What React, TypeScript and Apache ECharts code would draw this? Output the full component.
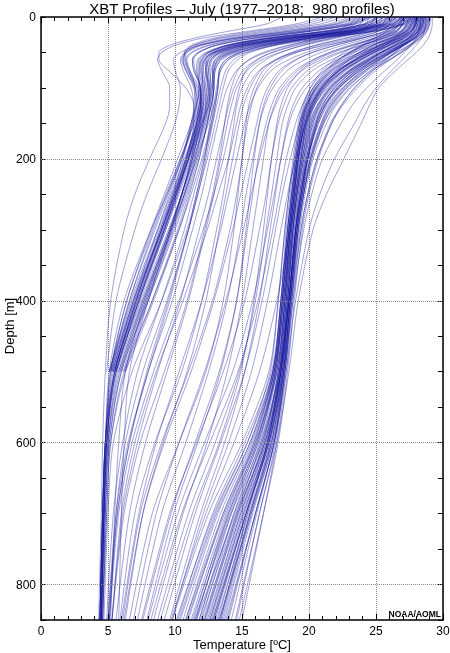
import React, { useEffect, useRef } from "react";
import * as echarts from "echarts";

const DEPTHS = [0, 10, 20, 30, 40, 50, 60, 75, 100, 125, 150, 200, 250, 300, 400, 500, 600, 700, 850];
const DEPTH_LABEL_STEP = 200;
const DEPTH_GRID = [200, 400, 600, 800];

// Warm (subtropical / 18-degree water) profiles, temperature in deg C
const WARM = [
  [28.5, 28.4, 28.2, 27.5, 26.5, 25.4, 24.5, 23.2, 21.6, 20.6, 20.1, 19.6, 19.2, 18.9, 18.4, 17.9, 16.9, 15.1, 12.6],
  [27.8, 27.7, 27.3, 26.2, 25.0, 24.0, 23.1, 22.0, 20.8, 20.0, 19.6, 19.2, 18.9, 18.6, 18.2, 17.6, 16.2, 14.2, 11.8],
  [28.9, 28.9, 28.7, 28.2, 27.4, 26.5, 25.6, 24.2, 22.5, 21.4, 20.7, 19.9, 19.4, 19.0, 18.5, 18.0, 17.2, 15.6, 13.4],
  [27.2, 27.0, 26.5, 25.4, 24.1, 23.2, 22.4, 21.5, 20.4, 19.8, 19.4, 19.0, 18.7, 18.4, 18.0, 17.4, 15.8, 13.6, 11.0],
  [28.2, 28.1, 27.9, 27.4, 26.8, 26.0, 25.2, 24.0, 22.6, 21.6, 21.0, 20.2, 19.6, 19.2, 18.6, 18.1, 17.4, 16.0, 14.0],
  [26.8, 26.6, 26.0, 24.8, 23.5, 22.6, 21.9, 21.0, 20.1, 19.6, 19.3, 18.9, 18.6, 18.3, 17.9, 17.2, 15.2, 12.8, 10.2],
  [28.6, 28.5, 28.3, 27.8, 26.9, 25.8, 24.8, 23.4, 21.8, 20.8, 20.2, 19.6, 19.2, 18.8, 18.3, 17.7, 16.6, 14.8, 12.2],
  [27.5, 27.4, 27.1, 26.5, 25.6, 24.6, 23.7, 22.5, 21.1, 20.3, 19.8, 19.4, 19.0, 18.7, 18.3, 17.8, 16.8, 15.0, 12.6],
  [29.0, 28.9, 28.6, 27.9, 26.8, 25.6, 24.6, 23.3, 21.9, 21.0, 20.5, 19.9, 19.5, 19.1, 18.6, 18.1, 17.0, 15.3, 12.9],
  [28.0, 27.9, 27.6, 26.9, 25.9, 24.8, 23.9, 22.7, 21.2, 20.3, 19.8, 19.3, 18.9, 18.6, 18.1, 17.5, 16.0, 13.9, 11.4],
  [28.3, 28.3, 28.1, 27.7, 27.1, 26.4, 25.7, 24.6, 23.1, 22.0, 21.3, 20.3, 19.7, 19.3, 18.7, 18.2, 17.5, 16.3, 14.6],
  [27.0, 26.9, 26.6, 25.8, 24.7, 23.7, 22.8, 21.7, 20.5, 19.9, 19.5, 19.1, 18.8, 18.5, 18.1, 17.5, 16.3, 14.4, 12.0],
  [28.7, 28.6, 28.4, 27.9, 27.1, 26.2, 25.3, 23.9, 22.2, 21.1, 20.5, 19.8, 19.3, 19.0, 18.5, 17.9, 16.7, 14.6, 11.9],
  [28.1, 28.0, 27.7, 27.0, 26.0, 24.9, 23.9, 22.6, 21.0, 20.2, 19.7, 19.2, 18.9, 18.6, 18.2, 17.7, 16.5, 14.5, 11.6],
  [28.8, 28.7, 28.5, 28.1, 27.5, 26.8, 26.0, 24.8, 23.4, 22.4, 21.6, 20.6, 19.9, 19.4, 18.8, 18.3, 17.6, 16.6, 15.0],
  [27.6, 27.5, 27.0, 26.0, 24.8, 23.8, 23.0, 22.1, 21.0, 20.3, 19.9, 19.4, 19.0, 18.7, 18.2, 17.6, 16.0, 13.7, 10.9],
  [28.4, 28.3, 28.0, 27.3, 26.3, 25.3, 24.4, 23.1, 21.6, 20.7, 20.1, 19.5, 19.1, 18.8, 18.4, 17.9, 17.0, 15.4, 13.2],
  [26.5, 26.3, 25.8, 24.9, 23.9, 23.0, 22.3, 21.4, 20.3, 19.7, 19.3, 18.9, 18.5, 18.2, 17.7, 17.0, 15.0, 12.5, 9.8],
  [28.9, 28.8, 28.6, 28.2, 27.6, 26.9, 26.1, 25.0, 23.6, 22.5, 21.7, 20.7, 20.0, 19.5, 18.9, 18.4, 17.7, 16.6, 14.8],
  [27.9, 27.8, 27.5, 26.7, 25.6, 24.5, 23.6, 22.4, 21.0, 20.1, 19.6, 19.1, 18.7, 18.4, 17.9, 17.3, 15.6, 13.2, 10.6],
  [28.2, 28.1, 27.8, 27.1, 26.1, 25.1, 24.2, 23.0, 21.5, 20.6, 20.0, 19.5, 19.1, 18.8, 18.4, 17.8, 16.6, 14.7, 12.3],
  [28.6, 28.5, 28.3, 27.7, 26.8, 25.9, 25.0, 23.8, 22.3, 21.3, 20.7, 19.9, 19.4, 19.0, 18.5, 17.9, 16.9, 15.2, 12.8],
  [27.3, 27.2, 26.9, 26.2, 25.2, 24.2, 23.3, 22.2, 20.9, 20.1, 19.7, 19.2, 18.9, 18.6, 18.1, 17.4, 15.7, 13.4, 10.8],
  [28.0, 27.9, 27.7, 27.1, 26.3, 25.4, 24.6, 23.5, 22.1, 21.2, 20.6, 19.9, 19.4, 19.1, 18.6, 18.1, 17.3, 15.8, 13.7],
  [29.1, 29.0, 28.8, 28.3, 27.5, 26.6, 25.7, 24.4, 22.8, 21.6, 20.9, 20.0, 19.5, 19.1, 18.6, 18.0, 16.8, 14.9, 12.4],
  [27.7, 27.6, 27.2, 26.4, 25.3, 24.3, 23.4, 22.3, 20.9, 20.1, 19.7, 19.2, 18.8, 18.5, 18.0, 17.3, 15.4, 12.9, 10.1],
  [28.4, 28.3, 28.1, 27.6, 26.9, 26.1, 25.3, 24.2, 22.7, 21.7, 21.0, 20.1, 19.6, 19.2, 18.7, 18.2, 17.4, 16.1, 14.2],
  [28.1, 28.0, 27.6, 26.8, 25.7, 24.6, 23.6, 22.3, 20.7, 19.9, 19.5, 19.1, 18.8, 18.5, 18.0, 17.4, 16.1, 14.0, 11.3],
];

// A second set of subtropical profiles
const WARM_B = [
  [27.4, 27.3, 27.0, 26.3, 25.3, 24.3, 23.4, 22.3, 21.0, 20.2, 19.8, 19.3, 19.0, 18.7, 18.2, 17.6, 16.4, 14.6, 12.2],
  [28.8, 28.7, 28.5, 27.9, 27.0, 26.0, 25.0, 23.6, 22.0, 20.9, 20.3, 19.7, 19.3, 19.0, 18.5, 18.0, 17.1, 15.5, 13.1],
  [27.9, 27.8, 27.4, 26.5, 25.3, 24.1, 23.1, 21.9, 20.5, 19.8, 19.4, 19.0, 18.7, 18.4, 17.9, 17.3, 15.9, 13.8, 11.2],
  [28.5, 28.4, 28.2, 27.7, 27.0, 26.2, 25.4, 24.3, 22.8, 21.8, 21.1, 20.2, 19.6, 19.2, 18.6, 18.1, 17.2, 15.6, 13.3],
  [26.9, 26.7, 26.2, 25.2, 24.0, 23.0, 22.2, 21.3, 20.3, 19.7, 19.4, 19.0, 18.7, 18.4, 17.9, 17.3, 15.6, 13.1, 10.4],
  [28.2, 28.1, 27.9, 27.3, 26.4, 25.4, 24.5, 23.2, 21.7, 20.8, 20.3, 19.7, 19.3, 18.9, 18.4, 17.8, 16.5, 14.4, 11.8],
  [29.0, 29.0, 28.8, 28.4, 27.7, 26.9, 26.0, 24.7, 23.0, 21.9, 21.1, 20.1, 19.5, 19.1, 18.5, 18.0, 17.0, 15.3, 12.9],
  [27.6, 27.5, 27.2, 26.4, 25.4, 24.4, 23.5, 22.3, 20.9, 20.2, 19.8, 19.4, 19.1, 18.8, 18.3, 17.8, 16.9, 15.3, 13.0],
  [28.3, 28.2, 28.0, 27.4, 26.6, 25.6, 24.7, 23.4, 21.9, 21.0, 20.4, 19.8, 19.4, 19.0, 18.5, 17.9, 16.7, 14.7, 12.1],
  [27.1, 27.0, 26.6, 25.6, 24.4, 23.4, 22.6, 21.6, 20.5, 19.8, 19.5, 19.1, 18.8, 18.5, 18.0, 17.5, 16.2, 14.1, 11.5],
  [28.7, 28.6, 28.4, 27.8, 26.9, 25.9, 24.9, 23.6, 22.1, 21.1, 20.5, 19.8, 19.4, 19.0, 18.5, 17.9, 16.9, 15.1, 12.7],
  [28.0, 27.9, 27.6, 26.9, 25.9, 24.9, 24.0, 22.8, 21.3, 20.4, 19.9, 19.4, 19.0, 18.7, 18.3, 17.8, 16.9, 15.4, 13.4],
  [27.4, 27.3, 26.9, 26.0, 24.8, 23.8, 22.9, 21.8, 20.6, 19.9, 19.5, 19.1, 18.8, 18.5, 18.0, 17.4, 15.9, 13.6, 10.8],
  [28.6, 28.5, 28.3, 27.8, 27.0, 26.1, 25.2, 24.0, 22.5, 21.5, 20.9, 20.1, 19.6, 19.2, 18.7, 18.2, 17.4, 16.0, 13.9],
  [28.1, 28.0, 27.7, 27.0, 26.0, 24.9, 23.9, 22.6, 21.1, 20.2, 19.7, 19.2, 18.9, 18.6, 18.1, 17.5, 16.1, 14.0, 11.6],
  [27.8, 27.7, 27.4, 26.7, 25.7, 24.7, 23.8, 22.6, 21.2, 20.4, 20.0, 19.5, 19.1, 18.8, 18.4, 17.9, 17.1, 15.6, 13.5],
  [28.9, 28.8, 28.6, 28.0, 27.1, 26.1, 25.1, 23.8, 22.2, 21.2, 20.6, 19.9, 19.5, 19.1, 18.6, 18.1, 17.2, 15.7, 13.6],
  [27.0, 26.8, 26.3, 25.3, 24.1, 23.1, 22.2, 21.2, 20.1, 19.5, 19.2, 18.8, 18.5, 18.2, 17.7, 17.1, 15.4, 13.0, 10.3],
  [28.4, 28.3, 28.1, 27.5, 26.7, 25.8, 24.9, 23.7, 22.2, 21.2, 20.6, 19.9, 19.4, 19.0, 18.5, 17.8, 16.4, 14.2, 11.5],
  [27.7, 27.6, 27.3, 26.6, 25.6, 24.5, 23.5, 22.2, 20.8, 20.0, 19.6, 19.2, 18.9, 18.6, 18.2, 17.7, 16.7, 14.9, 12.5],
];

// Warmest edge of the subtropical group
const WARM_EDGE = [
  [28.7, 28.7, 28.6, 28.4, 28.0, 27.5, 27.0, 26.2, 25.0, 24.1, 23.4, 21.9, 20.8, 20.0, 19.0, 18.3, 17.4, 16.0, 13.8],
  [28.3, 28.3, 28.2, 28.0, 27.6, 27.1, 26.6, 25.7, 24.3, 23.2, 22.4, 21.0, 20.2, 19.6, 18.8, 18.2, 17.3, 15.7, 13.3],
  [29.2, 29.2, 29.1, 28.9, 28.5, 28.0, 27.4, 26.5, 25.2, 24.5, 23.9, 22.6, 21.3, 20.3, 19.2, 18.5, 17.6, 16.3, 14.5],
  [27.9, 27.9, 27.8, 27.5, 27.0, 26.4, 25.8, 24.8, 23.4, 22.4, 21.7, 20.6, 19.9, 19.4, 18.7, 18.1, 17.0, 15.3, 12.8],
];

// Profiles between the two main groups (frontal / mixed water)
const MIDDLE = [
  [27.5, 27.3, 26.8, 25.5, 23.8, 22.2, 20.9, 19.5, 18.2, 17.5, 17.0, 16.3, 15.7, 15.1, 13.8, 12.2, 10.3, 8.6, 6.9],
  [26.2, 26.0, 25.2, 23.5, 21.5, 19.8, 18.5, 17.2, 16.2, 15.6, 15.2, 14.6, 14.0, 13.4, 12.0, 10.3, 8.6, 7.3, 6.0],
  [28.0, 27.9, 27.5, 26.6, 25.2, 23.8, 22.6, 21.2, 19.8, 19.0, 18.5, 17.9, 17.4, 16.9, 15.8, 14.3, 12.2, 10.2, 8.0],
  [25.5, 25.2, 24.2, 22.0, 19.6, 17.8, 16.5, 15.4, 14.6, 14.2, 13.9, 13.4, 12.9, 12.3, 11.0, 9.4, 7.8, 6.6, 5.6],
  [27.0, 26.8, 26.2, 24.8, 23.0, 21.5, 20.3, 19.0, 17.8, 17.2, 16.8, 16.2, 15.8, 15.4, 14.6, 13.3, 11.5, 9.7, 7.6],
  [24.5, 24.2, 23.0, 20.8, 18.5, 16.8, 15.6, 14.6, 13.9, 13.5, 13.2, 12.6, 12.0, 11.3, 9.8, 8.0, 6.6, 5.7, 5.0],
  [27.8, 27.6, 27.2, 26.0, 24.4, 22.9, 21.7, 20.3, 19.0, 18.4, 18.0, 17.6, 17.2, 16.8, 16.0, 14.8, 13.0, 11.0, 8.7],
  [26.6, 26.4, 25.6, 23.9, 21.9, 20.2, 19.0, 17.8, 16.9, 16.4, 16.1, 15.5, 14.9, 14.3, 12.9, 11.2, 9.2, 7.6, 6.2],
  [23.8, 23.4, 22.2, 19.8, 17.2, 15.4, 14.4, 13.8, 13.4, 13.1, 12.8, 12.1, 11.4, 10.7, 9.0, 7.2, 6.1, 5.4, 4.9],
  [28.3, 28.2, 27.9, 27.1, 25.9, 24.6, 23.5, 22.1, 20.6, 19.8, 19.3, 18.6, 18.0, 17.5, 16.5, 15.2, 13.4, 11.5, 9.2],
  [25.8, 25.5, 24.6, 22.6, 20.4, 18.7, 17.5, 16.4, 15.6, 15.1, 14.8, 14.3, 13.8, 13.3, 12.3, 10.9, 9.1, 7.6, 6.3],
  [27.2, 27.0, 26.4, 25.0, 23.2, 21.6, 20.4, 19.2, 18.0, 17.4, 17.0, 16.6, 16.2, 15.8, 15.0, 13.9, 12.4, 10.6, 8.4],
  [24.9, 24.6, 23.5, 21.2, 18.9, 17.2, 16.1, 15.1, 14.4, 14.0, 13.7, 13.1, 12.5, 11.8, 10.4, 8.7, 7.2, 6.1, 5.3],
  [26.9, 26.7, 26.0, 24.4, 22.5, 20.9, 19.7, 18.4, 17.3, 16.7, 16.3, 15.8, 15.3, 14.9, 13.9, 12.5, 10.8, 9.0, 7.2],
  [28.5, 28.4, 28.1, 27.4, 26.4, 25.3, 24.3, 23.0, 21.4, 20.4, 19.8, 19.0, 18.4, 17.9, 16.9, 15.7, 14.0, 12.1, 9.8],
  [25.1, 24.8, 23.8, 21.7, 19.5, 17.9, 16.8, 15.8, 15.0, 14.6, 14.4, 14.0, 13.6, 13.1, 12.0, 10.5, 8.5, 7.0, 5.9],
  [26.0, 25.4, 23.5, 20.0, 16.8, 14.8, 13.8, 13.3, 13.2, 13.0, 12.8, 12.3, 11.7, 11.0, 9.4, 7.6, 6.3, 5.6, 5.1],
  [27.1, 26.8, 25.9, 23.8, 21.2, 19.0, 17.6, 16.3, 15.4, 14.9, 14.6, 14.0, 13.2, 12.4, 10.6, 8.6, 7.0, 6.0, 5.3],
];

// More profiles in between the groups
const MIDDLE_B = [
  [26.4, 26.1, 25.2, 23.2, 20.9, 19.1, 17.9, 16.9, 16.1, 15.7, 15.4, 15.0, 14.6, 14.1, 12.8, 11.0, 9.0, 7.4, 6.1],
  [27.6, 27.4, 26.9, 25.6, 23.9, 22.4, 21.2, 19.9, 18.7, 18.1, 17.7, 17.2, 16.8, 16.3, 15.2, 13.6, 11.6, 9.6, 7.5],
  [25.0, 24.6, 23.4, 21.0, 18.4, 16.6, 15.5, 14.7, 14.2, 13.9, 13.7, 13.3, 12.8, 12.2, 10.9, 9.2, 7.4, 6.2, 5.3],
  [28.1, 28.0, 27.6, 26.7, 25.4, 24.1, 23.0, 21.7, 20.3, 19.5, 19.0, 18.3, 17.8, 17.3, 16.2, 14.7, 12.6, 10.5, 8.2],
  [24.2, 23.8, 22.5, 20.0, 17.4, 15.6, 14.7, 14.0, 13.6, 13.3, 13.0, 12.4, 11.7, 11.0, 9.5, 7.9, 6.6, 5.7, 5.1],
  [27.3, 27.1, 26.5, 25.1, 23.3, 21.8, 20.6, 19.4, 18.4, 17.9, 17.6, 17.2, 16.9, 16.6, 15.9, 14.9, 13.3, 11.3, 8.9],
  [26.0, 25.7, 24.8, 22.8, 20.5, 18.8, 17.6, 16.6, 15.9, 15.5, 15.3, 15.0, 14.7, 14.4, 13.6, 12.3, 10.3, 8.3, 6.6],
  [25.4, 25.0, 23.9, 21.6, 19.1, 17.3, 16.2, 15.3, 14.8, 14.5, 14.2, 13.6, 12.9, 12.1, 10.3, 8.4, 6.8, 5.8, 5.1],
  [28.6, 28.5, 28.2, 27.5, 26.5, 25.4, 24.4, 23.1, 21.6, 20.7, 20.2, 19.6, 19.1, 18.6, 17.6, 16.3, 14.4, 12.3, 9.7],
  [26.8, 26.5, 25.7, 24.0, 22.0, 20.3, 19.1, 18.0, 17.1, 16.6, 16.3, 15.9, 15.6, 15.3, 14.6, 13.4, 11.7, 9.9, 7.9],
  [23.5, 23.1, 21.8, 19.2, 16.6, 14.9, 14.0, 13.4, 13.1, 12.9, 12.7, 12.2, 11.6, 11.0, 9.6, 8.0, 6.5, 5.6, 5.0],
  [27.9, 27.7, 27.3, 26.2, 24.7, 23.3, 22.1, 20.8, 19.5, 18.8, 18.4, 17.9, 17.5, 17.1, 16.3, 15.2, 13.7, 11.9, 9.6],
];

// Cold (slope / subpolar) profiles reaching 850 m
const COLD = [
  [26.5, 25.8, 23.0, 18.5, 15.2, 13.4, 12.6, 12.3, 12.2, 12.0, 11.7, 11.0, 10.2, 9.3, 7.4, 5.6, 4.9, 4.7, 4.5],
  [24.8, 23.5, 20.2, 16.4, 13.8, 12.5, 12.0, 11.8, 11.8, 11.6, 11.3, 10.5, 9.4, 8.2, 6.2, 5.1, 4.8, 4.6, 4.4],
  [27.4, 26.9, 24.8, 20.5, 16.8, 14.6, 13.5, 13.0, 12.9, 12.7, 12.4, 11.7, 10.9, 10.0, 8.0, 6.0, 5.1, 4.8, 4.6],
  [22.5, 20.8, 17.2, 13.5, 11.4, 10.8, 10.8, 11.1, 11.5, 11.5, 11.2, 10.5, 9.6, 8.7, 6.9, 5.4, 4.8, 4.6, 4.4],
  [25.6, 24.6, 21.5, 17.0, 14.0, 12.6, 12.0, 11.9, 12.1, 12.1, 11.9, 11.3, 10.5, 9.6, 7.6, 5.7, 5.0, 4.7, 4.5],
  [27.0, 26.2, 23.8, 19.2, 15.6, 13.8, 13.0, 12.8, 12.8, 12.6, 12.2, 11.4, 10.5, 9.5, 7.5, 5.6, 4.9, 4.7, 4.5],
  [23.5, 22.0, 18.6, 14.4, 11.8, 10.8, 10.4, 10.6, 11.2, 11.4, 11.2, 10.6, 9.8, 8.9, 7.1, 5.5, 4.8, 4.6, 4.4],
  [26.0, 25.3, 22.8, 18.2, 14.8, 13.0, 12.3, 12.1, 12.0, 11.8, 11.5, 10.8, 10.0, 9.1, 7.2, 5.5, 4.9, 4.7, 4.5],
  [21.5, 19.6, 16.0, 12.8, 11.2, 10.7, 10.7, 11.0, 11.5, 11.7, 11.6, 11.2, 10.5, 9.7, 7.8, 5.9, 5.0, 4.7, 4.5],
  [27.8, 27.2, 25.0, 21.0, 17.5, 15.2, 14.0, 13.4, 13.2, 12.9, 12.5, 11.6, 10.7, 9.7, 7.7, 5.8, 5.0, 4.8, 4.6],
  [25.0, 24.0, 21.0, 16.8, 13.8, 12.3, 11.7, 11.6, 11.9, 11.9, 11.7, 11.0, 10.1, 9.2, 7.3, 5.6, 4.9, 4.7, 4.5],
  [26.8, 26.0, 23.2, 18.8, 15.4, 13.6, 12.8, 12.6, 12.7, 12.5, 12.1, 11.2, 10.3, 9.3, 7.3, 5.5, 4.8, 4.6, 4.4],
  [21.0, 19.0, 15.5, 12.0, 10.0, 9.0, 8.7, 9.0, 9.6, 9.6, 9.3, 8.1, 7.0, 6.2, 5.2, 4.8, 4.6, 4.5, 4.3],
  [25.9, 25.0, 22.2, 17.8, 14.6, 13.0, 12.4, 12.3, 12.5, 12.4, 12.1, 11.4, 10.6, 9.7, 7.8, 6.3, 5.8, 5.5, 5.2],
  [24.0, 22.6, 19.3, 15.0, 12.4, 11.2, 10.8, 11.0, 11.7, 11.9, 11.8, 11.2, 10.5, 9.7, 8.0, 6.6, 6.2, 6.0, 5.8],
  [18.0, 16.8, 14.0, 11.4, 9.6, 8.8, 8.8, 9.5, 10.8, 11.4, 11.4, 10.8, 9.9, 9.0, 7.1, 5.5, 4.9, 4.7, 4.5],
];

// Second set of cold profiles reaching 850 m
const COLD_B = [
  [26.2, 25.4, 22.6, 18.0, 14.6, 12.9, 12.3, 12.3, 12.6, 12.6, 12.4, 11.8, 11.0, 10.2, 8.3, 6.3, 5.2, 4.9, 4.6],
  [24.4, 23.0, 19.8, 15.7, 13.0, 11.8, 11.4, 11.5, 11.9, 11.8, 11.4, 10.4, 9.3, 8.3, 6.4, 5.2, 4.8, 4.6, 4.4],
  [27.3, 26.6, 24.3, 20.0, 16.4, 14.4, 13.4, 13.0, 12.9, 12.8, 12.6, 12.2, 11.6, 10.9, 9.0, 6.8, 5.4, 5.0, 4.7],
  [25.1, 24.1, 21.2, 16.9, 13.9, 12.4, 11.8, 11.7, 11.8, 11.6, 11.2, 10.2, 9.2, 8.2, 6.4, 5.2, 4.8, 4.6, 4.4],
  [26.5, 25.7, 23.1, 18.6, 15.2, 13.4, 12.7, 12.5, 12.6, 12.5, 12.2, 11.5, 10.7, 9.8, 7.9, 6.0, 5.1, 4.8, 4.5],
  [22.0, 20.2, 16.6, 13.2, 11.4, 10.7, 10.5, 10.8, 11.4, 11.5, 11.3, 10.4, 9.4, 8.4, 6.6, 5.3, 4.8, 4.6, 4.4],
  [27.6, 27.0, 24.9, 20.8, 17.2, 14.9, 13.8, 13.3, 13.2, 13.0, 12.7, 12.0, 11.2, 10.3, 8.3, 6.2, 5.2, 4.9, 4.6],
];

// Cold profiles whose probes stop at 500 m
const COLD_SHORT = [
  [25.3, 24.2, 21.2, 17.0, 14.2, 12.8, 12.2, 12.0, 12.1, 11.9, 11.6, 10.8, 9.9, 9.0, 7.1, 5.5],
  [27.2, 26.5, 24.2, 19.8, 16.2, 14.2, 13.2, 12.9, 12.8, 12.5, 12.0, 11.1, 10.2, 9.2, 7.2, 5.4],
  [24.2, 22.8, 19.5, 15.2, 12.6, 11.3, 10.9, 11.1, 11.8, 12.0, 11.8, 11.0, 10.1, 9.1, 7.1, 5.4],
  [26.3, 25.5, 22.8, 18.4, 15.0, 13.2, 12.5, 12.4, 12.5, 12.3, 12.0, 11.3, 10.5, 9.6, 7.7, 5.9],
  [23.0, 21.4, 17.8, 14.0, 11.7, 10.8, 10.6, 10.9, 11.6, 11.8, 11.6, 10.9, 10.0, 9.0, 7.0, 5.3],
  [27.6, 27.0, 24.6, 20.2, 16.4, 14.3, 13.3, 12.9, 12.7, 12.4, 12.0, 11.0, 10.0, 9.0, 6.9, 5.2],
  [25.8, 24.9, 22.0, 17.6, 14.5, 12.9, 12.2, 12.1, 12.3, 12.3, 12.1, 11.5, 10.7, 9.8, 7.9, 6.1],
  [26.6, 25.8, 23.4, 19.0, 15.6, 13.8, 13.0, 12.7, 12.6, 12.3, 11.9, 11.0, 10.0, 9.0, 7.0, 5.3],
  [24.5, 23.2, 20.0, 15.8, 13.0, 11.7, 11.3, 11.4, 11.9, 11.9, 11.6, 10.7, 9.7, 8.7, 6.7, 5.1],
  [26.9, 26.2, 23.6, 19.3, 15.8, 14.0, 13.1, 12.8, 12.9, 12.7, 12.3, 11.6, 10.8, 9.9, 8.0, 6.2],
  [23.8, 22.2, 18.8, 14.6, 11.8, 10.4, 9.9, 10.0, 10.4, 10.3, 10.0, 9.0, 7.9, 7.0, 5.6, 4.9],
  [25.6, 24.6, 21.7, 17.3, 14.3, 12.8, 12.1, 12.0, 12.2, 12.1, 11.8, 11.0, 10.1, 9.2, 7.3, 5.6],
  [26.0, 25.1, 22.4, 18.0, 14.8, 13.2, 12.5, 12.3, 12.4, 12.2, 11.8, 10.9, 9.9, 8.9, 6.9, 5.2],
  [24.6, 23.3, 20.1, 15.9, 13.1, 11.8, 11.3, 11.4, 11.9, 12.0, 11.9, 11.3, 10.5, 9.6, 7.6, 5.8],
  [27.0, 26.3, 23.9, 19.5, 16.0, 14.1, 13.2, 12.9, 12.9, 12.7, 12.4, 11.8, 11.1, 10.3, 8.4, 6.3],
  [23.3, 21.8, 18.3, 14.4, 12.0, 10.9, 10.6, 10.8, 11.5, 11.6, 11.4, 10.5, 9.5, 8.5, 6.6, 5.1],
  [26.4, 25.6, 22.9, 18.5, 15.1, 13.4, 12.7, 12.5, 12.4, 12.1, 11.7, 10.8, 9.8, 8.8, 6.8, 5.1],
  [25.2, 24.3, 21.4, 17.1, 14.0, 12.5, 11.9, 11.8, 12.0, 11.9, 11.6, 10.9, 10.1, 9.2, 7.3, 5.6],
];

const FONT = "'Liberation Sans', Arial, Helvetica, sans-serif";
const TITLE = "XBT Profiles \u2013 July (1977\u20132018;  980 profiles)";
const X_NAME = "Temperature [\u00baC]";
const Y_NAME = "Depth [m]";

export default function App() {
  const ref = useRef<HTMLDivElement>(null);

  useEffect(() => {
    if (!ref.current) return;
    const chart = echarts.init(ref.current, null, { renderer: "svg" });
    const all = [
      ...WARM, ...WARM_B, ...WARM_EDGE, ...MIDDLE, ...MIDDLE_B,
      ...COLD, ...COLD_B, ...COLD_SHORT,
    ];

    const profileSeries = all.map((temps) => ({
      type: "line",
      xAxisIndex: 0,
      yAxisIndex: 0,
      data: temps
        .map((t, i) => [t, DEPTHS[i]])
        .filter((p) => p[1] !== undefined),
      symbol: "none",
      showSymbol: false,
      smooth: 0.3,
      silent: true,
      z: 3,
      lineStyle: { color: "#14149c", width: 0.95, opacity: 0.42 },
    }));

    const gridSeries = {
      type: "line",
      xAxisIndex: 0,
      yAxisIndex: 0,
      data: [],
      silent: true,
      z: 1,
      markLine: {
        silent: true,
        symbol: "none",
        label: { show: false },
        lineStyle: { type: "dotted", color: "#8a8a8a", width: 1 },
        data: DEPTH_GRID.map((v) => ({ yAxis: v })),
      },
    };

    const axisLine = { show: true, onZero: false, lineStyle: { color: "#000", width: 1.5 } };
    const tickStyle = { color: "#000", width: 1 };

    chart.setOption({
      animation: false,
      textStyle: { fontFamily: FONT },
      grid: {
        left: 41,
        right: 7,
        top: 17,
        bottom: 33,
        containLabel: false,
        outerBoundsMode: "none",
      },
      xAxis: [
        {
          type: "value",
          position: "bottom",
          min: 0,
          max: 30,
          interval: 5,
          axisLine,
          axisTick: { show: true, inside: true, length: 6, lineStyle: tickStyle },
          minorTick: { show: true, splitNumber: 5, length: 4, lineStyle: tickStyle },
          splitLine: { show: true, lineStyle: { type: "dotted", color: "#8a8a8a", width: 1 } },
          axisLabel: { color: "#000", fontSize: 12, margin: 5, fontFamily: FONT },
        },
        {
          type: "value",
          position: "top",
          min: 0,
          max: 30,
          interval: 5,
          axisLine,
          axisTick: { show: true, inside: true, length: 6, lineStyle: tickStyle },
          minorTick: { show: true, splitNumber: 5, length: 4, lineStyle: tickStyle },
          splitLine: { show: false },
          axisLabel: { show: false },
        },
      ],
      yAxis: [
        {
          type: "value",
          position: "left",
          inverse: true,
          min: 0,
          max: 850,
          interval: 50,
          axisLine,
          axisTick: { show: true, inside: true, length: 5, lineStyle: tickStyle },
          splitLine: { show: false },
          axisLabel: {
            color: "#000",
            fontSize: 12,
            margin: 5,
            fontFamily: FONT,
            formatter: (v: number) => (v % DEPTH_LABEL_STEP === 0 ? String(v) : ""),
          },
        },
        {
          type: "value",
          position: "right",
          inverse: true,
          min: 0,
          max: 850,
          interval: 50,
          axisLine,
          axisTick: { show: true, inside: true, length: 5, lineStyle: tickStyle },
          splitLine: { show: false },
          axisLabel: { show: false },
        },
      ],
      graphic: [
        {
          type: "text",
          x: 242,
          y: 8,
          style: {
            text: TITLE,
            fill: "#000",
            font: `15px ${FONT}`,
            textAlign: "center",
            textVerticalAlign: "middle",
          },
        },
        {
          type: "text",
          x: 242,
          y: 644,
          style: {
            text: X_NAME,
            fill: "#000",
            font: `13px ${FONT}`,
            textAlign: "center",
            textVerticalAlign: "middle",
          },
        },
        {
          type: "text",
          x: 9,
          y: 326,
          rotation: Math.PI / 2,
          style: {
            text: Y_NAME,
            fill: "#000",
            font: `13px ${FONT}`,
            textAlign: "center",
            textVerticalAlign: "middle",
          },
        },
        {
          type: "text",
          x: 441,
          y: 618,
          z: 10,
          style: {
            text: "NOAA/AOML",
            fill: "#000",
            font: `bold 8.5px ${FONT}`,
            textAlign: "right",
            textVerticalAlign: "bottom",
          },
        },
      ],
      series: [gridSeries, ...profileSeries],
    });

    return () => chart.dispose();
  }, []);

  return (
    <div
      ref={ref}
      style={{ position: "fixed", left: 0, top: 0, width: 450, height: 653 }}
    />
  );
}
